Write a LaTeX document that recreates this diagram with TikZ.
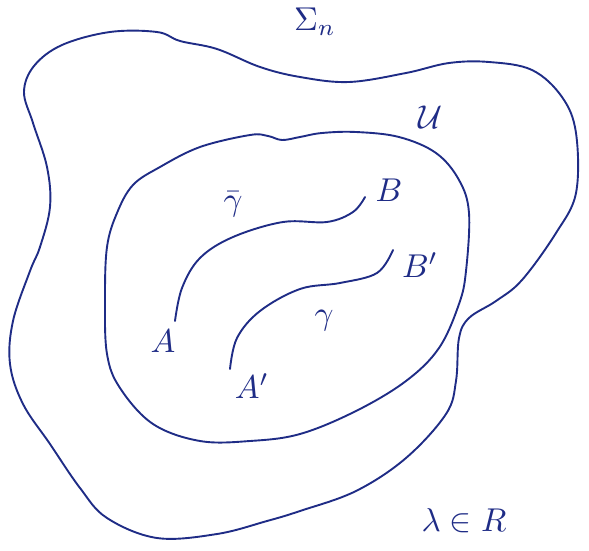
\documentclass[tikz,border=0pt]{standalone}
\usepackage{amsmath}
\usepackage{amssymb}
\usepackage{tikz}
\definecolor{ink}{HTML}{1F2C86}
\tikzset{
  curve/.style={ink, line width=1.9pt, line cap=round, line join=round},
  lbl/.style={text=ink, scale=3.3, inner sep=0pt}
}

\begin{document}
\begin{tikzpicture}[x=1pt, y=-1pt]
            \useasboundingbox (0,0) rectangle (589,551);
            % outer region
            \draw[curve] plot[smooth cycle, tension=0.6] coordinates {(110,32) (157,32) (180,41) (217,49) (260,67) (300,77) (349,82) (406,73) (449,63) (489,62) (532,70) (562,97) (576,133) (576,193) (556,233) (522,280) (496,301) (469,318) (459,338) (456,381) (446,414) (406,458) (356,491) (300,511) (267,521) (217,534) (157,538) (107,518) (80,488) (50,444) (23,404) (10,364) (13,321) (30,271) (40,247) (50,207) (47,167) (33,123) (24,92) (34,66) (62,45)};
            % inner region
            \draw[curve] plot[smooth cycle, tension=0.6] coordinates {(250,135) (268,136) (282,140) (300,137) (322,133) (356,132) (399,137) (436,153) (459,180) (469,213) (466,271) (459,304) (439,348) (406,381) (356,411) (300,434) (250,441) (200,441) (153,424) (120,388) (107,354) (105,300) (107,247) (117,213) (133,185) (160,167) (200,147)};
            % end points
            \coordinate (a) at (175,321);
            \coordinate (b) at (365,197);
            \coordinate (a1) at (230,369);
            \coordinate (b1) at (393,250);
            \draw[curve] plot[smooth, tension=0.6] coordinates {(a) (182,288) (200,258) (233,237) (283,222) (327,222) (353,212) (b)};
            \draw[curve] plot[smooth, tension=0.6] coordinates {(a1) (237,338) (260,311) (300,289) (340,283) (377,273) (b1)};
            % labels
            \node[lbl] (sig) at (315,22) {$\Sigma_n$};
            \node[lbl] (uu) at (430,117) {$\mathcal{U}$};
            \node[lbl] (gb) at (233,204) {$\bar\gamma$};
            \node[lbl] (g) at (324,321) {$\gamma$};
            \node[lbl] (lA) at (163,341) {$A$};
            \node[lbl] (lB) at (389,190) {$B$};
            \node[lbl] (lA1) at (252,386) {$A'$};
            \node[lbl] (lB1) at (420,265) {$B'$};
            \node[lbl] (lam) at (464,521) {$\lambda\in R$};
\end{tikzpicture}
\end{document}
